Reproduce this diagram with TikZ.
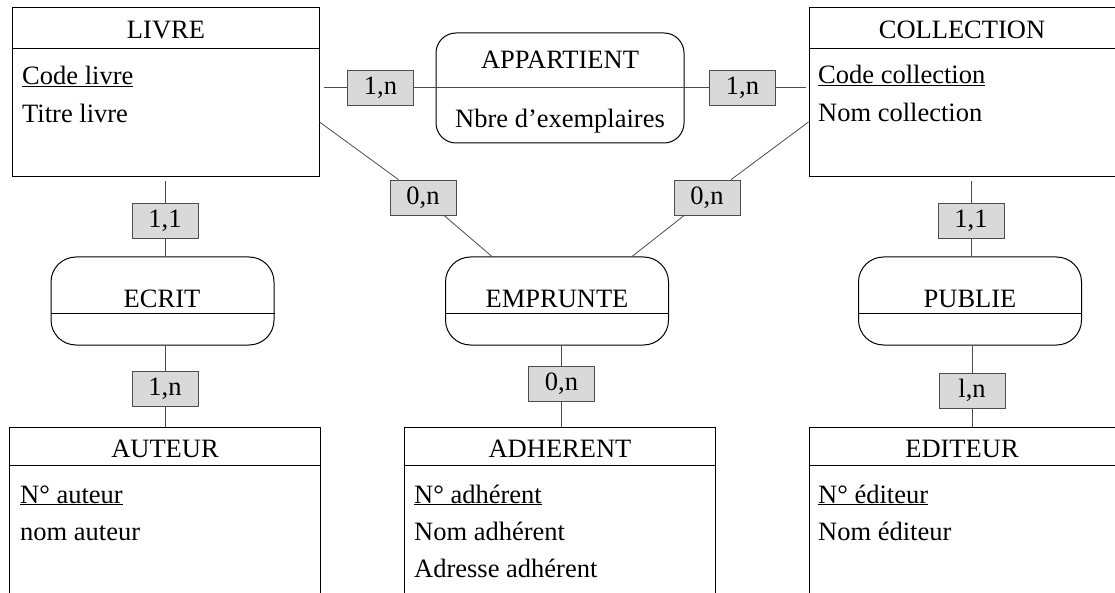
\documentclass[tikz,border=0pt]{standalone}
\usepackage{fontspec}
\setmainfont{Liberation Serif}
\usetikzlibrary{positioning}
\tikzset{%
	entity/.style={rectangle, draw=black, line width=1pt, inner sep=0pt},
	assoc/.style={rectangle, rounded corners=25pt, draw=black, line width=1pt, inner sep=0pt, minimum width=223pt, minimum height=88pt},
	card/.style={rectangle, draw=black!70, fill=black!15, line width=0.8pt, minimum width=66pt, minimum height=35pt, inner sep=0pt, font=\fontsize{26.5}{31}\selectfont},
	cnx/.style={draw=black!70, line width=0.8pt},
	sep/.style={draw=black, line width=0.9pt},
	title/.style={anchor=base, inner sep=0pt, font=\fontsize{26.5}{31}\selectfont},
	attr/.style={anchor=base west, inner sep=0pt, font=\fontsize{26.5}{31}\selectfont}
}

\begin{document}
\begin{tikzpicture}[x=1pt, y=-1pt]
	\useasboundingbox (0,0) rectangle (1115,593);
	\clip (0,0) rectangle (1115,593);

	% entites
	\node[entity, minimum width=307pt, minimum height=169pt] (livre) at (165.5,92.5) {};
	\node[entity, minimum width=316pt, minimum height=169pt] (collection) at (967,92.5) {};
	\node[entity, minimum width=311pt, minimum height=200pt] (auteur) at (164.5,527) {};
	\node[entity, minimum width=311pt, minimum height=200pt] (adherent) at (559.5,527) {};
	\node[entity, minimum width=316pt, minimum height=200pt] (editeur) at (967,527) {};

	\node[title] (t-livre) at (166,39) {LIVRE};
	\node[title] (t-collection) at (962,39) {COLLECTION};
	\node[title] (t-auteur) at (165,457) {AUTEUR};
	\node[title] (t-adherent) at (560,457) {ADHERENT};
	\node[title] (t-editeur) at (962,457) {EDITEUR};

	\draw[sep] (livre.west |- 0,48) -- (livre.east |- 0,48);
	\draw[sep] (collection.west |- 0,48) -- (collection.east |- 0,48);
	\draw[sep] (auteur.west |- 0,465) -- (auteur.east |- 0,465);
	\draw[sep] (adherent.west |- 0,465) -- (adherent.east |- 0,465);
	\draw[sep] (editeur.west |- 0,465) -- (editeur.east |- 0,465);

	\node[attr] (a-livre1) at (22,85) {\underline{Code livre}};
	\node[attr] (a-livre2) at (22,123) {Titre livre};
	\node[attr] (a-coll1) at (818,84) {\underline{Code collection}};
	\node[attr] (a-coll2) at (818,122) {Nom collection};
	\node[attr] (a-aut1) at (20,503) {\underline{N° auteur}};
	\node[attr] (a-aut2) at (20,540) {nom auteur};
	\node[attr] (a-adh1) at (414,503) {\underline{N° adhérent}};
	\node[attr] (a-adh2) at (414,540) {Nom adhérent};
	\node[attr] (a-adh3) at (414,577) {Adresse adhérent};
	\node[attr] (a-edi1) at (818,503) {\underline{N° éditeur}};
	\node[attr] (a-edi2) at (818,540) {Nom éditeur};

	% associations
	\node[assoc, rounded corners=20pt, minimum width=248pt, minimum height=110pt] (appartient) at (560,88) {};
	\node[assoc] (ecrit) at (162.5,301) {};
	\node[assoc] (emprunte) at (557,301) {};
	\node[assoc] (publie) at (970,301) {};

	\node[title] (t-appartient) at (560,69) {APPARTIENT};
	\node[title] (p-appartient) at (560,128) {Nbre d’exemplaires};
	\node[title] (t-ecrit) at (162,308) {ECRIT};
	\node[title] (t-emprunte) at (557,307) {EMPRUNTE};
	\node[title] (t-publie) at (970,308) {PUBLIE};

	\draw[sep] (ecrit.west |- 0,313) -- (ecrit.east |- 0,313);
	\draw[sep] (emprunte.west |- 0,313) -- (emprunte.east |- 0,313);
	\draw[sep] (publie.west |- 0,313) -- (publie.east |- 0,313);

	% cardinalites et liens
	\node[card] (c-app1) at (380.5,87.5) {1,n};
	\node[card] (c-app2) at (742.5,87.5) {1,n};
	\draw[cnx, shorten <=4pt] (livre.east |- c-app1) -- (c-app1);
	\draw[cnx] (c-app1) -- (c-app2);
	\draw[cnx, shorten >=3pt] (c-app2) -- (collection.west |- c-app2);

	\node[card] (c-emp1) at (423,197.5) {0,n};
	\node[card] (c-emp2) at (707,197.5) {0,n};
	\node[card] (c-emp3) at (561.5,383.5) {0,n};
	\draw[cnx] (livre.east |- 0,122) -- (c-emp1) -- (emprunte.north -| 492,0);
	\draw[cnx] (collection.west |- 0,122) -- (c-emp2) -- (emprunte.north -| 632,0);
	\draw[cnx] (c-emp3) -- (c-emp3 |- emprunte.south);
	\draw[cnx] (c-emp3) -- (c-emp3 |- adherent.north);

	\node[card] (c-ecr1) at (165,220.5) {1,1};
	\node[card] (c-ecr2) at (165,389) {1,n};
	\draw[cnx, shorten >=4pt] (c-ecr1) -- (c-ecr1 |- livre.south);
	\draw[cnx] (c-ecr1) -- (c-ecr1 |- ecrit.north);
	\draw[cnx] (c-ecr2) -- (c-ecr2 |- ecrit.south);
	\draw[cnx] (c-ecr2) -- (c-ecr2 |- auteur.north);

	\node[card] (c-pub1) at (971,220.5) {1,1};
	\node[card] (c-pub2) at (972,390.5) {l,n};
	\draw[cnx, shorten >=4pt] (c-pub1) -- (c-pub1 |- collection.south);
	\draw[cnx] (c-pub1) -- (c-pub1 |- publie.north);
	\draw[cnx] (c-pub2) -- (c-pub2 |- publie.south);
	\draw[cnx] (c-pub2) -- (c-pub2 |- editeur.north);
\end{tikzpicture}
\end{document}
